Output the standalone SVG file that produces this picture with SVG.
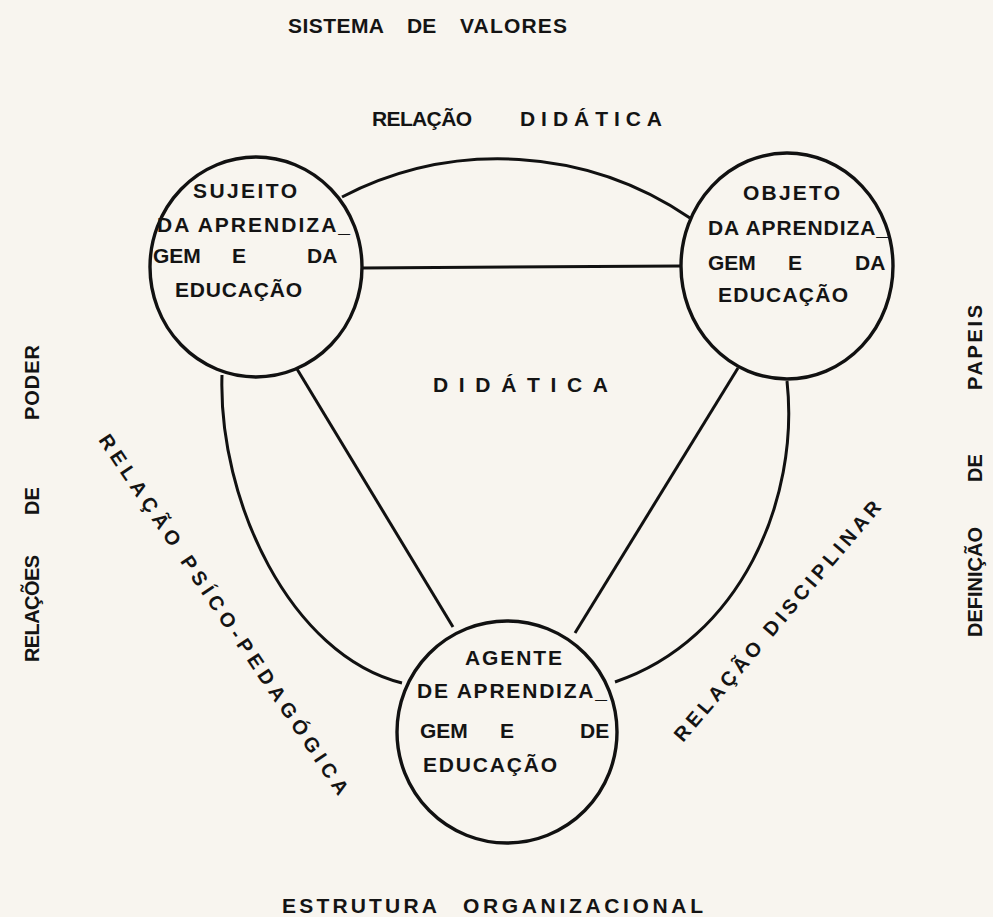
<svg xmlns="http://www.w3.org/2000/svg" width="993" height="917" viewBox="0 0 993 917">
<style>
.bg{fill:#f8f5ef}
.node{fill:none;stroke:#111;stroke-width:3.4}
.con{fill:none;stroke:#111;stroke-width:3}
text{font-family:"Liberation Sans","DejaVu Sans",sans-serif;font-weight:bold;fill:#141414;font-size:21px}
.lbl{font-size:20px}
</style>
<rect class="bg" x="0" y="0" width="993" height="917"/>
<g id="connectors">
<path class="con" d="M342,197 A340,340 0 0 1 690,218"/>
<line class="con" x1="362" y1="268" x2="681" y2="266"/>
<line class="con" x1="297" y1="369" x2="453" y2="627"/>
<line class="con" x1="738" y1="368" x2="575" y2="633"/>
<path class="con" d="M222,375 C218,500 290,655 402,683"/>
<path class="con" d="M787,381 C800,500 740,640 615,682"/>
</g>
<g id="node-sujeito">
<ellipse class="node" cx="256" cy="267" rx="106" ry="110"/>
<text x="193" y="198" textLength="104" lengthAdjust="spacing">SUJEITO</text>
<text x="157" y="232" textLength="193" lengthAdjust="spacing">DA APRENDIZA_</text>
<text y="263"><tspan x="153">GEM</tspan><tspan x="232">E</tspan><tspan x="307">DA</tspan></text>
<text x="175" y="297" textLength="127" lengthAdjust="spacing">EDUCAÇÃO</text>
</g>
<g id="node-objeto">
<ellipse class="node" cx="787" cy="266" rx="106" ry="113"/>
<text x="743" y="200" textLength="97" lengthAdjust="spacing">OBJETO</text>
<text x="708" y="235" textLength="180" lengthAdjust="spacing">DA APRENDIZA_</text>
<text y="270"><tspan x="708">GEM</tspan><tspan x="788">E</tspan><tspan x="855">DA</tspan></text>
<text x="718" y="302" textLength="130" lengthAdjust="spacing">EDUCAÇÃO</text>
</g>
<g id="node-agente">
<ellipse class="node" cx="507" cy="732" rx="110" ry="111"/>
<text x="465" y="665" textLength="97" lengthAdjust="spacing">AGENTE</text>
<text x="417" y="698" textLength="190" lengthAdjust="spacing">DE APRENDIZA_</text>
<text y="738"><tspan x="420">GEM</tspan><tspan x="500">E</tspan><tspan x="580">DE</tspan></text>
<text x="423" y="772" textLength="134" lengthAdjust="spacing">EDUCAÇÃO</text>
</g>
<g id="labels">
<text y="33"><tspan x="288" textLength="96" lengthAdjust="spacing">SISTEMA</tspan><tspan x="407">DE</tspan><tspan x="460" textLength="107" lengthAdjust="spacing">VALORES</tspan></text>
<text y="126"><tspan x="372" textLength="100" lengthAdjust="spacing">RELAÇÃO</tspan><tspan x="520" textLength="142" lengthAdjust="spacing">DIDÁTICA</tspan></text>
<text x="433" y="392" textLength="175" lengthAdjust="spacing">DIDÁTICA</text>
<text y="913"><tspan x="282" textLength="155" lengthAdjust="spacing">ESTRUTURA</tspan><tspan x="463" textLength="240" lengthAdjust="spacing">ORGANIZACIONAL</tspan></text>
<text class="lbl" transform="translate(39,662) rotate(-90)"><tspan x="0" y="0" textLength="107" lengthAdjust="spacing">RELAÇÕES</tspan><tspan x="147" y="0">DE</tspan><tspan x="242" y="0" textLength="75" lengthAdjust="spacing">PODER</tspan></text>
<text class="lbl" transform="translate(982,637) rotate(-90)"><tspan x="0" y="0" textLength="110" lengthAdjust="spacing">DEFINIÇÃO</tspan><tspan x="155" y="0">DE</tspan><tspan x="247" y="0" textLength="85" lengthAdjust="spacing">PAPEIS</tspan></text>
<text class="lbl" transform="translate(98,440) rotate(56)" x="0" y="0" textLength="430" lengthAdjust="spacing">RELAÇÃO PSÍCO-PEDAGÓGICA</text>
<text class="lbl" transform="translate(683,743) rotate(-49.7)" x="0" y="0" textLength="308" lengthAdjust="spacing">RELAÇÃO DISCIPLINAR</text>
</g>
</svg>
